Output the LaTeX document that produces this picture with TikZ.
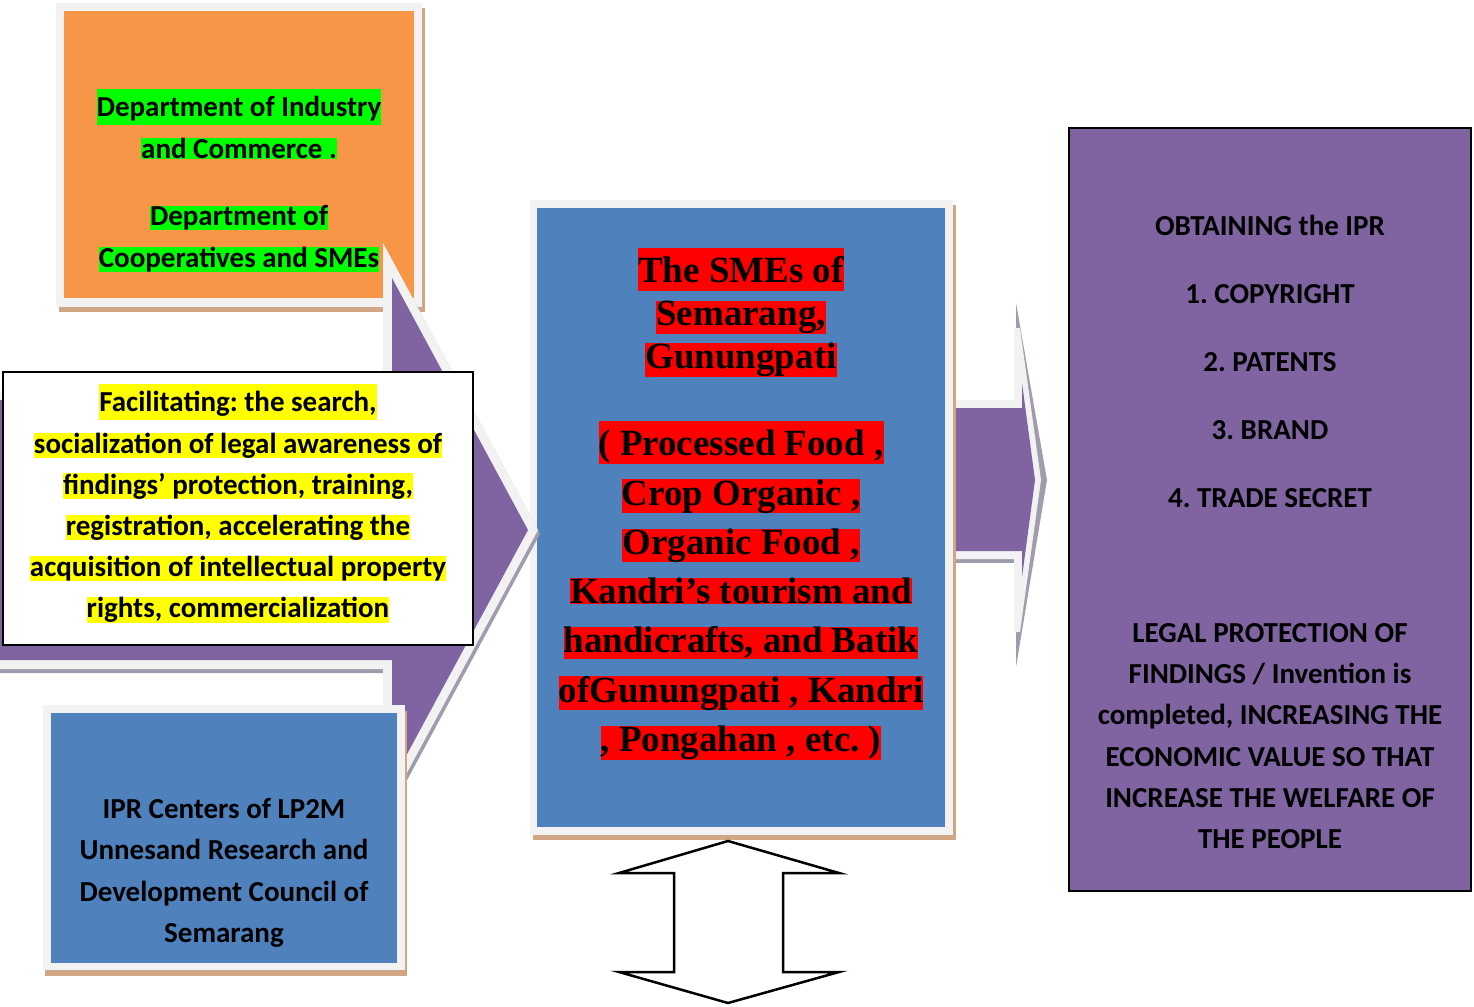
\documentclass[tikz,border=0pt]{standalone}
\usepackage{fontspec}
\setmainfont{Carlito}
\newfontfamily\tnr{Liberation Serif}
\definecolor{orng}{HTML}{F79646}
\definecolor{blu}{HTML}{4F81BD}
\definecolor{purp}{HTML}{8064A2}
\definecolor{bordr}{HTML}{F2F2F2}
\definecolor{tanc}{HTML}{D0A684}
\definecolor{ashadow}{HTML}{A19BAE}
\definecolor{hlgreen}{HTML}{00FF00}
\definecolor{hlyellow}{HTML}{FFFF00}
\definecolor{hlred}{HTML}{FF0000}
\newlength\hlh \newlength\hld
\newcommand\hl[2]{{\setlength\fboxsep{0pt}\colorbox{#1}{\vrule width 0pt height \hlh depth \hld\relax #2}}}
\newcommand\st{\vrule width 0pt height \hlh depth \hld\relax}
\tikzset{
  caltext/.style={font=\fontsize{29}{#1}\selectfont\bfseries\frenchspacing, align=center, inner sep=0pt, anchor=north},
  tnrtext/.style={font=\fontsize{37}{#1}\selectfont\tnr\bfseries\frenchspacing, align=center, inner sep=0pt, anchor=north},
}
\begin{document}
\begin{tikzpicture}[x=1pt,y=-1pt]
\useasboundingbox (0,0) rectangle (1474,1006);
\clip (0,0) rectangle (1474,1006);
% right arrow
\fill[ashadow] (1016,303) -- (1047,480) -- (1016,667) -- cycle;
\fill[ashadow] (940,556) rectangle (1016,563);
\fill[bordr] (930,400) -- (1014,400) -- (1014,328) -- (1020,328) -- (1041,480) -- (1020,632) -- (1014,632) -- (1014,559) -- (930,559) -- cycle;
\fill[purp] (930,408) -- (1022,408) -- (1022,383) -- (1035,480) -- (1022,577) -- (1022,551) -- (930,551) -- cycle;
% central box
\fill[tanc] (533,205) rectangle (956,840);
\fill[bordr] (530,200) rectangle (953,835);
\fill[blu] (537,208) rectangle (945,827);
% orange box
\fill[tanc] (59,8) rectangle (425,312);
\fill[bordr] (56,3) rectangle (422,307);
\fill[orng] (64,11) rectangle (414,298);
\node[caltext=42] (dept) at (239,89) {\setlength\hlh{27.6pt}\setlength\hld{8.4pt}%
  \hl{hlgreen}{Department of Industry}\\
  \hl{hlgreen}{and Commerce .}\\[25pt]
  \hl{hlgreen}{Department of}\\
  \hl{hlgreen}{Cooperatives and SMEs}};
% left arrow
\fill[ashadow, shift={(2,4)}] (-20,391) -- (383,391) -- (383,243) -- (538,530) -- (383,817) -- (383,669) -- (-20,669) -- cycle;
\fill[bordr] (-20,391) -- (383,391) -- (383,243) -- (538,530) -- (383,817) -- (383,669) -- (-20,669) -- cycle;
\fill[purp] (-20,400) -- (392,400) -- (392,278) -- (528,530) -- (392,782) -- (392,660) -- (-20,660) -- cycle;
% IPR box
\fill[tanc] (45,711) rectangle (407,976);
\fill[bordr] (43,705) rectangle (405,970);
\fill[blu] (51,713) rectangle (397,963);
\node[caltext=41.3] (ipr) at (224,790.7) {\setlength\hlh{27.6pt}\setlength\hld{8.4pt}%
  \st IPR Centers of LP2M\\
  \st Unnesand Research and\\
  \st Development Council of\\
  \st Semarang};
% white box
\draw[line width=2.5pt, fill=white] (3,372) rectangle (473,645);
\node[caltext=41.2] (facil) at (238,384) {\setlength\hlh{27.6pt}\setlength\hld{8.4pt}%
  \hl{hlyellow}{Facilitating: the search,}\\
  \hl{hlyellow}{socialization of legal awareness of}\\
  \hl{hlyellow}{findings’ protection, training,}\\
  \hl{hlyellow}{registration, accelerating the}\\
  \hl{hlyellow}{acquisition of intellectual property}\\
  \hl{hlyellow}{rights, commercialization}};
% right box
\draw[line width=2pt, fill=purp] (1069,128) rectangle (1471,891);
\node[caltext=68] (obtain) at (1270,207.7) {\setlength\hlh{27.6pt}\setlength\hld{8.4pt}%
  \st OBTAINING the IPR\\
  \st 1. COPYRIGHT\\
  \st 2. PATENTS\\
  \st 3. BRAND\\
  \st 4. TRADE SECRET};
\node[caltext=41.2] (legal) at (1270,614.7) {\setlength\hlh{27.6pt}\setlength\hld{8.4pt}%
  \st LEGAL PROTECTION OF\\
  \st FINDINGS / Invention is\\
  \st completed, INCREASING THE\\
  \st ECONOMIC VALUE SO THAT\\
  \st INCREASE THE WELFARE OF\\
  \st THE PEOPLE};
% central texts
\node[tnrtext=43] (smes) at (741,248) {\setlength\hlh{34.5pt}\setlength\hld{8.5pt}%
  \hl{hlred}{The SMEs of}\\
  \hl{hlred}{Semarang,}\\
  \hl{hlred}{Gunungpati}};
\node[tnrtext=49.3] (prods) at (741,421) {\setlength\hlh{34.5pt}\setlength\hld{8.5pt}%
  \hl{hlred}{( Processed Food ,}\\
  \hl{hlred}{Crop Organic ,}\\
  \hl{hlred}{Organic Food ,}\\
  \hl{hlred}{Kandri’s tourism and}\\
  \hl{hlred}{handicrafts, and Batik}\\
  \hl{hlred}{ofGunungpati , Kandri}\\
  \hl{hlred}{, Pongahan , etc. )}};
% double arrow
\draw[line width=2.5pt, fill=white, line join=miter] (728,841) -- (839,873) -- (783,873) -- (783,972) -- (839,972) -- (728,1003) -- (619,972) -- (674,972) -- (674,873) -- (619,873) -- cycle;
\end{tikzpicture}
\end{document}
